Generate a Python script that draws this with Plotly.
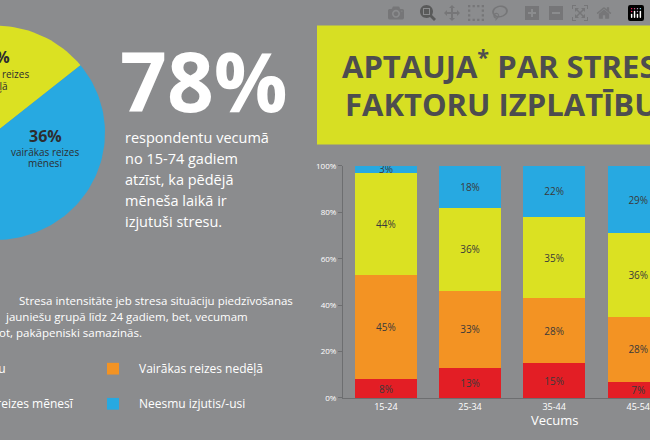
import numpy as np
import plotly.graph_objects as go

ages = ["15-24", "25-34", "35-44", "45-54"]
daily = [8, 13, 15, 7]
weekly = [45, 33, 28, 28]
monthly = [44, 36, 35, 36]
never = [3, 18, 22, 29]
series = [("Katru dienu", daily, "#e31e25"), ("Vairākas reizes nedēļā", weekly, "#f39323"),
          ("Vairākas reizes mēnesī", monthly, "#dbe122"), ("Neesmu izjutis/-usi", never, "#27a9e1")]
pie_labels = ["vairākas reizes nedēļā", "vairākas reizes mēnesī", "citi"]
pie_values = [42, 36, 22]
pie_colors = ["#dbe122", "#27a9e1", "#27a9e1"]
y_ticks = [0, 20, 40, 60, 80, 100]

BG = "#8b8c8e"
W, H = 650, 440
fig = go.Figure()
for name, vals, col in series:
    fig.add_trace(go.Bar(x=list(range(len(ages))), y=vals, name=name, marker_color=col,
                         marker_line_width=0, width=0.73,
                         text=[f"{v}%" for v in vals], textposition="inside", textangle=0,
                         insidetextanchor="middle", constraintext="none",
                         textfont=dict(color="#3a3a3a", size=10, family="Open Sans"),
                         hoverinfo="skip", showlegend=False))

# pie drawn as wedges on a pixel axis (clipped by canvas)
cx, cy, r = -5, 130, 110
start = 51 - pie_values[0] * 3.6
ang = start
for v, col in zip(pie_values, pie_colors):
    a = np.radians(np.linspace(ang, ang + v * 3.6, 60))
    xs = np.concatenate([[cx], cx + r * np.sin(a), [cx]])
    ys = np.concatenate([[cy], cy - r * np.cos(a), [cy]])
    fig.add_trace(go.Scatter(x=xs, y=ys, xaxis="x2", yaxis="y2", fill="toself", fillcolor=col,
                             mode="lines", line=dict(width=0, color=col), hoverinfo="skip",
                             showlegend=False))
    ang += v * 3.6

fig.update_layout(
    width=W, height=H, margin=dict(l=0, r=0, t=0, b=0),
    paper_bgcolor=BG, plot_bgcolor="rgba(0,0,0,0)", barmode="stack",
    xaxis=dict(domain=[343 / W, 1], range=[-0.51, 3.14], tickvals=list(range(4)), ticktext=ages,
               showgrid=False, zeroline=False, showline=True, linecolor="#6d6e70",
               tickfont=dict(color="white", size=9, family="Open Sans"), ticks=""),
    yaxis=dict(domain=[1 - 402 / H, 1 - 164 / H], range=[0, 100], tickvals=y_ticks,
               ticktext=[f"{t}%" for t in y_ticks], showgrid=False, zeroline=False,
               showline=True, linecolor="#6d6e70", ticks="outside", ticklen=4, tickcolor="#6d6e70",
               tickfont=dict(color="white", size=8, family="Open Sans")),
    xaxis2=dict(domain=[0, 1], range=[0, W], visible=False, anchor="y2"),
    yaxis2=dict(domain=[0, 1], range=[H, 0], visible=False, anchor="x2"),
    font=dict(family="Open Sans"),
)

# title box
fig.add_shape(type="rect", xref="paper", yref="paper", x0=317 / W, x1=1.05, y0=1 - 142 / H,
              y1=1 - 20 / H, fillcolor="#d7df23", line_width=0, layer="below")

def ann(x, y, text, size, color="white", anchor="left", bold=False):
    fig.add_annotation(xref="paper", yref="paper", x=x / W, y=1 - y / H, text=f"<b>{text}</b>" if bold else text,
                       showarrow=False, xanchor=anchor, yanchor="middle",
                       font=dict(size=size, color=color, family="Open Sans"), align="left")

ann(340, 60, "APTAUJA<sup>*</sup> PAR STRESA", 31, "#4d4d4f", bold=True)
ann(343, 101, "FAKTORU IZPLATĪBU", 31, "#4d4d4f", bold=True)
ann(118, 76, "78%", 82, bold=True)
for i, line in enumerate(["respondentu vecumā", "no 15-74 gadiem", "atzīst, ka pēdējā",
                          "mēneša laikā ir", "izjutuši stresu."]):
    ann(123, 135 + i * 21.5, line, 14.5)
for i, (line, xe) in enumerate([("Stresa intensitāte jeb stresa situāciju piedzīvošanas", 295),
                                ("jauniešu grupā līdz 24 gadiem, bet, vecumam", 250),
                                ("pieaugot, pakāpeniski samazinās.", 144)]):
    ann(xe, 302 + i * 16.5, line, 11.5, anchor="right")
# legend
for y, col, txt in [(372, "#f39323", "Vairākas reizes nedēļā"), (408, "#27a9e1", "Neesmu izjutis/-usi")]:
    fig.add_shape(type="rect", xref="paper", yref="paper", x0=107 / W, x1=119 / W,
                  y0=1 - (y + 6) / H, y1=1 - (y - 6) / H, fillcolor=col, line_width=0)
    ann(137, y, txt, 12)
ann(8, 372, "Katru dienu", 12, anchor="right")
ann(76, 408, "Vairākas reizes mēnesī", 12, anchor="right")
# pie labels
ann(45, 133, "36%", 16, "#2d2d2f", anchor="center", bold=True)
ann(45, 150, "vairākas reizes", 10, "#2d2d2f", anchor="center")
ann(45, 161, "mēnesī", 10, "#2d2d2f", anchor="center")
ann(12, 52, "42%", 16, "#2d2d2f", anchor="right", bold=True)
ann(31, 70, "vairākas reizes", 10, "#2d2d2f", anchor="right")
ann(10, 82, "nedēļā", 10, "#2d2d2f", anchor="right")
ann(554, 425, "Vecums", 13, anchor="center")

fig.write_html("out.html", post_script="document.body.style.margin='0';document.body.style.overflow='hidden';")
